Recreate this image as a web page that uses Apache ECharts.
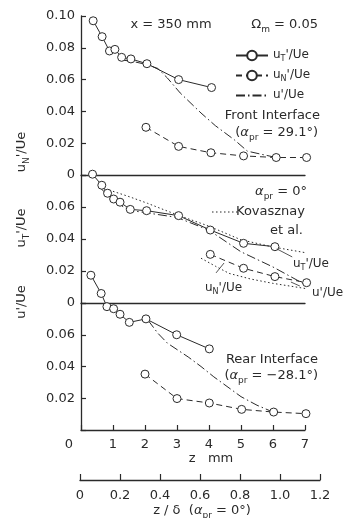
<!DOCTYPE html>
<html>
<head>
<meta charset="utf-8">
<script src="https://cdn.jsdelivr.net/npm/echarts@6/dist/echarts.min.js"></script>
<style>
  html, body { margin: 0; padding: 0; background: #fff; }
  #chart { width: 347px; height: 518px; }
</style>
</head>
<body>
<div id="chart"></div>
<script>
// z in mm, values are rms / Ue
// front interface (alpha_pr = 29.1 deg)
const frontTz = [0.38, 0.66, 0.89, 1.06, 1.27, 1.56, 2.06, 3.05, 4.08];
const frontT = [0.097, 0.087, 0.078, 0.079, 0.074, 0.073, 0.070, 0.060, 0.055];
const frontNz = [2.03, 3.05, 4.06, 5.08, 6.1, 7.05];
const frontN = [0.030, 0.018, 0.014, 0.012, 0.011, 0.011];
const frontUz = [1.2, 1.6, 2.05, 2.4, 2.7, 3.1, 3.75, 4.2, 4.8, 5.2, 5.6, 6.1];
const frontU = [0.0725, 0.0715, 0.0695, 0.067, 0.061, 0.0516, 0.039, 0.031, 0.022, 0.015, 0.0132, 0.011];

// alpha_pr = 0
const midTz = [0.36, 0.65, 0.83, 1.02, 1.22, 1.54, 2.05, 3.05, 4.04, 5.08, 6.06];
const midT = [0.0805, 0.0736, 0.0686, 0.065, 0.063, 0.0585, 0.0577, 0.0546, 0.0456, 0.0373, 0.0352];
const midNz = [4.04, 5.08, 6.06, 7.05];
const midN = [0.0304, 0.0217, 0.0165, 0.0127];
const midUz = [0.6, 1.0, 1.5, 2.0, 3.0, 4.0, 5.0, 6.0, 7.1];
const midU = [0.072, 0.064, 0.058, 0.0565, 0.0535, 0.0455, 0.032, 0.0225, 0.0105];
// Kovasznay et al.
const kovTz = [0.88, 1.5, 2.08, 2.5, 3.02, 4.0, 5.0, 6.0, 7.0];
const kovT = [0.0706, 0.0665, 0.0623, 0.059, 0.055, 0.048, 0.0395, 0.035, 0.0315];
const kovNz = [3.75, 4.2, 4.63, 5.3, 5.99, 7.03];
const kovN = [0.028, 0.023, 0.0185, 0.015, 0.0123, 0.009];

// rear interface (alpha_pr = -28.1 deg)
const rearTz = [0.31, 0.63, 0.81, 1.02, 1.22, 1.51, 2.03, 2.99, 4.01];
const rearT = [0.0975, 0.086, 0.0777, 0.0764, 0.0729, 0.0678, 0.070, 0.060, 0.0511];
const rearNz = [2.0, 3.0, 4.01, 5.02, 6.02, 7.03];
const rearN = [0.0352, 0.0198, 0.017, 0.013, 0.0113, 0.0103];
const rearUz = [2.1, 2.4, 2.7, 3.35, 3.75, 4.15, 5.0, 5.5, 6.0];
const rearU = [0.069, 0.061, 0.0547, 0.046, 0.040, 0.0335, 0.021, 0.0156, 0.0113];

// pointer lines to the curve labels in the middle panel
const leaderLines = [
  [[6.12, 0.0338], [6.6, 0.0288]],
  [[4.47, 0.025], [4.22, 0.0188]],
  [[6.56, 0.0131], [6.84, 0.0106]]
];

const ink = '#2a2a2a';
const font = 'DejaVu Sans';
const rich = {
  m: {fontSize: 13, fontFamily: font, color: ink, lineHeight: 14, verticalAlign: 'top'},
  a: {fontSize: 13, fontFamily: font, color: ink, lineHeight: 14, verticalAlign: 'top', fontStyle: 'italic'},
  s: {fontSize: 9, fontFamily: font, color: ink, lineHeight: 10, verticalAlign: 'top', padding: [7, 0, 0, 0]}
};
const richSmall = {
  m: {fontSize: 12, fontFamily: font, color: ink, lineHeight: 13, verticalAlign: 'top'},
  s: {fontSize: 8, fontFamily: font, color: ink, lineHeight: 9, verticalAlign: 'top', padding: [6, 0, 0, 0]}
};

const pairs = (zs, vs) => zs.map((z, i) => [z, vs[i]]);
const dashes = {T: 'solid', N: [6, 4], U: [9, 3, 1.5, 3], K: [1.5, 2.5]};

const makeSeries = (name, idx, zs, vs, kind) => ({
  name: name,
  type: 'line',
  xAxisIndex: idx,
  yAxisIndex: idx,
  data: pairs(zs, vs),
  symbol: (kind === 'T' || kind === 'N') ? 'circle' : 'none',
  symbolSize: 8,
  clip: false,
  silent: true,
  z: (kind === 'T' || kind === 'N') ? 4 : 3,
  itemStyle: {color: '#fff', borderColor: ink, borderWidth: 1},
  lineStyle: {color: ink, width: 1, type: dashes[kind]}
});

const txt = (x, y, text, align, r, rotation) => ({
  type: 'text',
  x: x, y: y,
  rotation: rotation || 0,
  silent: true,
  style: {
    text: text,
    textAlign: align || 'left',
    textVerticalAlign: 'middle',
    rich: r || rich,
    fontFamily: font,
    fontSize: 13,
    fill: ink
  }
});

const panelTop = [16, 175, 303];
const panelHeight = [159, 128, 127];
const panelMax = [0.1, 0.08, 0.08];

const grids = panelTop.map((t, i) => ({left: 81, top: t, width: 224, height: panelHeight[i], outerBoundsMode: 'none'}));
grids.push({left: 80, top: 470, width: 240, height: 10, outerBoundsMode: 'none'});

const xAxes = panelTop.map((t, i) => ({
  type: 'value', gridIndex: i, min: 0, max: 7, interval: 1,
  axisLine: {show: true, onZero: false, lineStyle: {color: ink, width: 1.3}},
  axisTick: {show: i === 2, inside: true, length: 5, lineStyle: {color: ink, width: 1.2}},
  axisLabel: {
    show: i === 2, margin: 8, color: ink, fontSize: 13, fontFamily: font,
    formatter: v => v === 0 ? '{o|0}' : String(v),
    rich: {o: {fontSize: 13, fontFamily: font, color: ink, padding: [0, 24, 0, 0]}}
  },
  splitLine: {show: false}
}));
xAxes.push({
  type: 'value', gridIndex: 3, min: 0, max: 1.2, interval: 0.2,
  axisLine: {show: true, onZero: false, lineStyle: {color: ink, width: 1.3}},
  axisTick: {show: true, inside: true, length: 6, lineStyle: {color: ink, width: 1.2}},
  axisLabel: {margin: 9, color: ink, fontSize: 13, fontFamily: font,
    formatter: v => v === 0 ? '0' : v.toFixed(1)},
  splitLine: {show: false}
});

const yAxes = panelTop.map((t, i) => ({
  type: 'value', gridIndex: i, min: 0, max: panelMax[i], interval: 0.02,
  axisLine: {show: true, lineStyle: {color: ink, width: 1.3}},
  axisTick: {show: true, inside: true, length: 5, lineStyle: {color: ink, width: 1.2}},
  axisLabel: {
    margin: 6, color: ink, fontSize: 13, fontFamily: font,
    formatter: v => {
      if (i > 0 && Math.abs(v - 0.08) < 1e-9) return '';
      if (i === 2 && v === 0) return '';
      return v === 0 ? '0' : v.toFixed(2);
    }
  },
  splitLine: {show: false}
}));
yAxes.push({type: 'value', gridIndex: 3, show: false, min: 0, max: 1});

const series = [
  makeSeries('uT', 0, frontTz, frontT, 'T'),
  makeSeries('uN', 0, frontNz, frontN, 'N'),
  makeSeries('u', 0, frontUz, frontU, 'U'),
  makeSeries('kovT', 1, kovTz, kovT, 'K'),
  makeSeries('kovN', 1, kovNz, kovN, 'K'),
  makeSeries('uT', 1, midTz, midT, 'T'),
  makeSeries('uN', 1, midNz, midN, 'N'),
  makeSeries('u', 1, midUz, midU, 'U'),
  makeSeries('uT', 2, rearTz, rearT, 'T'),
  makeSeries('uN', 2, rearNz, rearN, 'N'),
  makeSeries('u', 2, rearUz, rearU, 'U')
];
series[6].markLine = {
  symbol: 'none', silent: true, animation: false,
  label: {show: false},
  lineStyle: {color: ink, width: 0.8, type: 'solid'},
  data: leaderLines.map(l => [{coord: l[0]}, {coord: l[1]}])
};

const legendText = {
  uT: "{m|u}{s|T}{m|'/Ue}",
  uN: "{m|u}{s|N}{m|'/Ue}",
  u: "{m|u'/Ue}"
};

const option = {
  animation: false,
  backgroundColor: '#fff',
  grid: grids,
  xAxis: xAxes,
  yAxis: yAxes,
  legend: {
    data: ['uT', 'uN', {name: 'u', itemStyle: {opacity: 0}}],
    orient: 'vertical',
    left: 230, top: 44,
    itemWidth: 32, itemHeight: 12, itemGap: 6,
    selectedMode: false,
    formatter: name => legendText[name],
    textStyle: {rich: richSmall, color: ink}
  },
  series: series,
  graphic: [
    txt(171, 25, 'x = 350 mm', 'center'),
    txt(318, 25, '{m|Ω}{s|m}{m| = 0.05}', 'right'),
    txt(320, 116, '{m|Front Interface}', 'right'),
    txt(318, 133, '{m|(}{a|α}{s|pr}{m| = 29.1°)}', 'right'),
    txt(307, 192, '{a|α}{s|pr}{m| = 0°}', 'right'),
    {type: 'line', silent: true, shape: {x1: 212, y1: 212, x2: 240, y2: 212},
      style: {stroke: ink, lineWidth: 1.2, lineDash: [1.5, 2.5]}},
    txt(305, 212, '{m|Kovasznay}', 'right'),
    txt(303, 231, '{m|et al.}', 'right'),
    txt(293, 264, "{m|u}{s|T}{m|'/Ue}", 'left', richSmall),
    txt(205, 288, "{m|u}{s|N}{m|'/Ue}", 'left', richSmall),
    txt(312, 293, "{m|u'/Ue}", 'left', richSmall),
    txt(318, 360, '{m|Rear Interface}', 'right'),
    txt(318, 376, '{m|(}{a|α}{s|pr}{m| = −28.1°)}', 'right'),
    txt(211, 459, '{m|z   mm}', 'center'),
    txt(202, 511, '{m|z / δ  (}{a|α}{s|pr}{m| = 0°)}', 'center'),
    txt(22, 152, "{m|u}{s|N}{m|'/Ue}", 'center', rich, Math.PI / 2),
    txt(22, 228, "{m|u}{s|T}{m|'/Ue}", 'center', rich, Math.PI / 2),
    txt(22, 302, "{m|u'/Ue}", 'center', rich, Math.PI / 2)
  ]
};

const chart = echarts.init(document.getElementById('chart'), null, {renderer: 'canvas'});
chart.setOption(option);
</script>
</body>
</html>
